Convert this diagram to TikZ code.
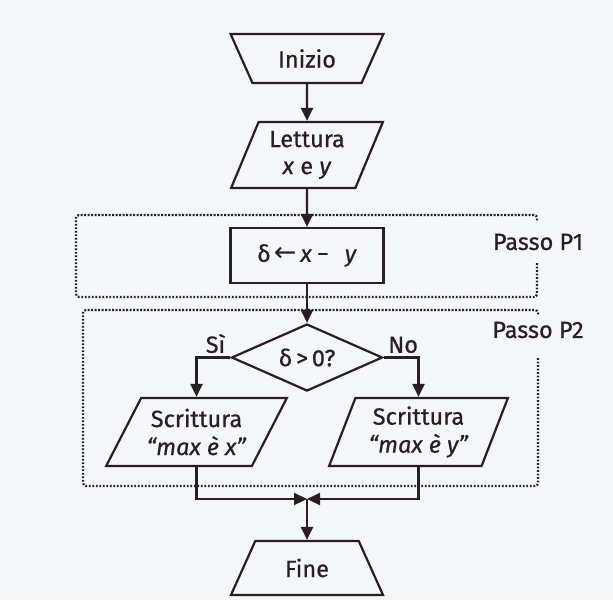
\documentclass[tikz,border=0pt]{standalone}
\usepackage{fontspec}
\setmainfont{Fira Sans}[FakeBold=0.6]
\newfontfamily\symfont{DejaVu Sans}
\usetikzlibrary{shapes.geometric,arrows.meta}
\definecolor{ink}{HTML}{2A1E22}
\definecolor{paper}{HTML}{F3F7F9}
\begin{document}
\begin{tikzpicture}[x=1pt,y=-1pt,
  font=\fontsize{23.5}{28}\selectfont,
  every node/.style={text=ink},
  base/.style={draw=ink, line width=2.2pt, align=center, inner sep=0pt},
  term/.style={base, trapezium, trapezium stretches=true},
  io/.style={base, trapezium, trapezium stretches=true},
  arr/.style={draw=ink, line width=2.2pt, -{Triangle[length=13pt,width=12pt]}},
  group/.style={draw=ink, line width=2.2pt, dash pattern=on 1.8pt off 1.7pt, rounded corners=3pt}]
\fill[paper] (0,0) rectangle (613,600);
\useasboundingbox (0,0) rectangle (613,600);

% dotted groups
\draw[group] (537,263) -- (537,297) -- (76,297) -- (76,215) -- (537,215) -- (537,221);
\draw[group] (538,358) -- (538,486) -- (83,486) -- (83,310) -- (538,310) -- (538,316);
\node (p1) at (538,242) {Passo P1};
\node (p2) at (538,330) {Passo P2};

% nodes
\node[term, trapezium left angle=58, trapezium right angle=58, shape border rotate=180,
      minimum width=153pt, minimum height=49pt] (start) at (307,58.5) {Inizio};
\node[io, trapezium left angle=66, trapezium right angle=114,
      minimum width=152pt, minimum height=66pt] (lett) at (307,155) {Lettura\\[-1pt]\textit{x} e \textit{y}};
\node[base, rectangle, minimum width=153pt, minimum height=55pt] (d) at (307,255.5)
      {δ\hspace{3pt}{\symfont\fontsize{27}{28}\selectfont\raisebox{0.5pt}{←}}\hspace{4pt}\textit{x}\hspace{5pt}−\hspace{16pt}\textit{y}};
\node[base, diamond, aspect=2.25, minimum width=151pt, minimum height=67pt] (q) at (307,357.5)
      {δ\,>\,0?};
\node[io, trapezium left angle=56, trapezium right angle=124,
      minimum width=181pt, minimum height=68pt] (L) at (196.5,432) {Scrittura\\[0pt]\textit{“max è x”}};
\node[io, trapezium left angle=68, trapezium right angle=112,
      minimum width=179pt, minimum height=68pt] (R) at (418.5,432) {Scrittura\\[0pt]\textit{“max è y”}};
\node[term, trapezium left angle=61, trapezium right angle=61,
      minimum width=153pt, minimum height=54pt] (fine) at (307,568) {Fine};
\coordinate (m) at (307,499);

% connectors
\draw[arr] (start) -- (lett);
\draw[arr] (lett) -- (d);
\draw[arr] (d) -- (q);
\draw[arr] (q.west) -| node[pos=0.22, above=0pt] (si) {Sì} (L.north);
\draw[arr] (q.east) -| node[pos=0.28, above=0pt] (no) {No} (R.north);
\draw[arr] (L.south) |- (m);
\draw[arr] (R.south) |- (m);
\draw[arr] (m) -- (fine);
\end{tikzpicture}
\end{document}
